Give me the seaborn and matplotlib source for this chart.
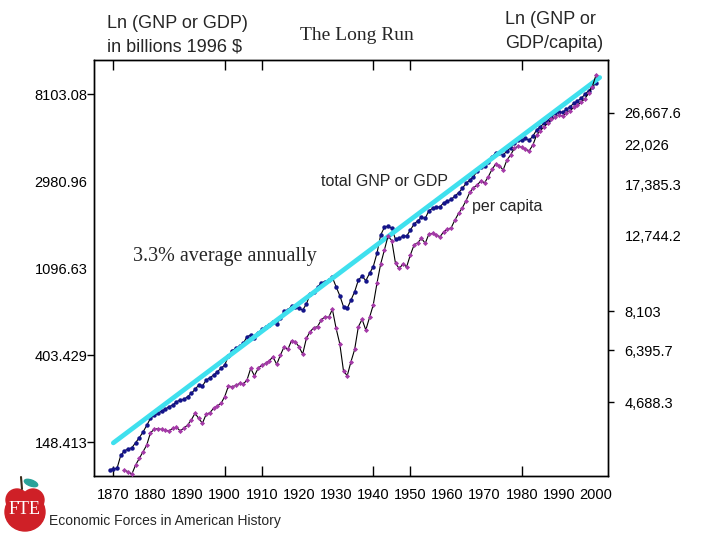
import numpy as np
import matplotlib
matplotlib.use("Agg")
import matplotlib.pyplot as plt
import seaborn as sns
from matplotlib.patches import Ellipse, Circle
from matplotlib.ticker import FixedLocator

# x values
gdp_years = list(range(1869, 2001))
pc_years = list(range(1873, 2001))

# ln of real GNP/GDP, billions of 1996 $ (left scale)
ln_gdp = [
    4.678,
    4.693, 4.697, 4.846, 4.900, 4.919, 4.935, 4.992, 5.050, 5.115, 5.191,
    5.272, 5.306, 5.329, 5.356, 5.379, 5.406, 5.425, 5.463, 5.482, 5.490,
    5.521, 5.559, 5.605, 5.655, 5.643, 5.712, 5.739, 5.770, 5.808, 5.846,
    5.885, 5.988, 6.050, 6.076, 6.103, 6.134, 6.210, 6.230, 6.191, 6.256,
    6.295, 6.318, 6.341, 6.379, 6.356, 6.421, 6.505, 6.517, 6.563, 6.548,
    6.536, 6.517, 6.586, 6.701, 6.728, 6.778, 6.831, 6.843, 6.862, 6.892,
    6.785, 6.682, 6.555, 6.536, 6.632, 6.728, 6.862, 6.908, 6.854, 6.938,
    7.015, 7.168, 7.379, 7.467, 7.482, 7.456, 7.329, 7.341, 7.368, 7.368,
    7.437, 7.505, 7.544, 7.582, 7.571, 7.659, 7.686, 7.697, 7.705, 7.751,
    7.770, 7.789, 7.827, 7.866, 7.915, 7.973, 8.011, 8.050, 8.115, 8.161,
    8.176, 8.222, 8.279, 8.325, 8.318, 8.299, 8.345, 8.383, 8.433, 8.471,
    8.471, 8.490, 8.467, 8.517, 8.586, 8.624, 8.663, 8.693, 8.739, 8.778,
    8.797, 8.789, 8.823, 8.854, 8.892, 8.919, 8.950, 8.996, 9.038, 9.084,
    9.122,
]

# ln of real GNP/GDP per capita, 1996 $ (right scale)
ln_pc = [
    8.044, 8.034, 8.020, 8.074, 8.114, 8.154, 8.194,
    8.268, 8.288, 8.293, 8.288, 8.284, 8.278, 8.295, 8.301, 8.280, 8.295,
    8.315, 8.345, 8.385, 8.355, 8.325, 8.379, 8.389, 8.415, 8.429, 8.445,
    8.485, 8.549, 8.545, 8.553, 8.565, 8.561, 8.585, 8.655, 8.611, 8.655,
    8.675, 8.685, 8.701, 8.725, 8.679, 8.735, 8.785, 8.769, 8.822, 8.816,
    8.785, 8.741, 8.836, 8.876, 8.900, 8.906, 8.946, 8.966, 8.962, 9.010,
    8.896, 8.802, 8.639, 8.611, 8.695, 8.769, 8.906, 8.950, 8.886, 8.962,
    9.036, 9.166, 9.282, 9.367, 9.451, 9.423, 9.286, 9.256, 9.282, 9.266,
    9.337, 9.397, 9.411, 9.437, 9.407, 9.463, 9.467, 9.457, 9.447, 9.477,
    9.491, 9.501, 9.547, 9.587, 9.621, 9.663, 9.713, 9.741, 9.757, 9.783,
    9.771, 9.808, 9.852, 9.884, 9.872, 9.848, 9.908, 9.938, 9.978, 9.992,
    9.984, 9.972, 9.964, 9.998, 10.058, 10.084, 10.108, 10.128, 10.152, 10.168,
    10.178, 10.172, 10.192, 10.204, 10.224, 10.236, 10.256, 10.276, 10.309, 10.349,
    10.419,
]

# trend line, 3.3% a year
trend_years = [1870, 2001]
trend_ln = [4.99, 9.19]

left_ticks = [148.413, 403.429, 1096.63, 2980.96, 8103.08]
left_labels = ["148.413", "403.429", "1096.63", "2980.96", "8103.08"]
left_marked = [148.413, 403.429, 8103.08]

right_ticks = [4688.3, 6395.7, 8103, 12744.2, 17385.3, 22026, 26667.6]
right_labels = ["4,688.3", "6,395.7", "8,103", "12,744.2", "17,385.3", "22,026", "26,667.6"]
right_marked = [4688.3, 6395.7, 8103, 26667.6]

decades = list(range(1870, 2001, 10))
year_marks = [1870, 1900, 1910, 1940, 1950, 1980]

sns.set_theme(style="white")
plt.rcParams["font.family"] = ["Liberation Sans", "DejaVu Sans"]

W, H = 720, 540
fig = plt.figure(figsize=(7.2, 5.4), dpi=100)
fig.patch.set_facecolor("white")

def fx(px):
    return px / W

def fy(py):
    return 1 - py / H

ax = fig.add_axes([fx(94.3), fy(475.7), fx(608 - 94.3), (475.7 - 60) / H])
ax2 = ax.twinx()

sns.lineplot(x=gdp_years, y=ln_gdp, ax=ax, color="black", lw=0.8,
             marker="o", markersize=3.2, markerfacecolor="#14148a",
             markeredgecolor="#14148a", markeredgewidth=0,
             estimator=None, sort=False, zorder=2)
sns.lineplot(x=trend_years, y=trend_ln, ax=ax, color="#3fe0ee", lw=3.4,
             estimator=None, sort=False, zorder=3)
sns.lineplot(x=pc_years, y=ln_pc, ax=ax2, color="black", lw=0.8,
             marker="D", markersize=2.6, markerfacecolor="#a53aa8",
             markeredgecolor="#a53aa8", markeredgewidth=0,
             estimator=None, sort=False, zorder=4)

ax.set_xlim(1864.88, 2003.23)
ax.set_ylim(4.613, 9.391)
ax2.set_ylim(8.010, 10.509)

# left axis
ax.set_yticks(np.log(left_ticks))
ax.set_yticklabels(left_labels)
ax.yaxis.set_minor_locator(FixedLocator(np.log(left_marked)))
ax.yaxis.remove_overlapping_locs = False
ax.tick_params(axis="y", which="major", length=0, pad=5, labelsize=10.5, colors="black")
ax.tick_params(axis="y", which="minor", left=True, length=5, width=1, direction="out", color="black")

# right axis
ax2.set_yticks(np.log(right_ticks))
ax2.set_yticklabels(right_labels)
ax2.yaxis.set_minor_locator(FixedLocator(np.log(right_marked)))
ax2.yaxis.remove_overlapping_locs = False
ax2.tick_params(axis="y", which="major", length=0, pad=12, labelsize=10.5, colors="black")
ax2.tick_params(axis="y", which="minor", right=True, length=4, width=1, direction="out", color="black")

# x axis
ax.set_xticks(decades)
ax.set_xticklabels([str(d) for d in decades])
ax.xaxis.set_minor_locator(FixedLocator(year_marks))
ax.xaxis.remove_overlapping_locs = False
ax.tick_params(axis="x", which="major", length=0, pad=9, labelsize=10.5, colors="black")
ax.tick_params(axis="x", which="minor", bottom=True, top=True, length=7, width=1,
               direction="in", color="black")
ax.set_xlabel("")
ax.set_ylabel("")
ax2.set_ylabel("")

for a in (ax, ax2):
    for s in a.spines.values():
        s.set_color("black")
        s.set_linewidth(1.0)

# titles and notes
sans = ["Liberation Sans", "DejaVu Sans"]
serif = ["Liberation Serif", "DejaVu Serif"]
fig.text(fx(107), fy(23), "Ln (GNP or GDP)", fontsize=13, family=sans, va="center")
fig.text(fx(107), fy(47), "in billions 1996 $", fontsize=13, family=sans, va="center")
fig.text(fx(357), fy(36), "The Long Run", fontsize=14, family=serif, ha="center", va="center")
fig.text(fx(505), fy(20), "Ln (GNP or", fontsize=13, family=sans, va="center")
fig.text(fx(505), fy(44), "GDP/capita)", fontsize=13, family=sans, va="center")
fig.text(fx(133), fy(257), "3.3% average annually", fontsize=14.5, family=serif, va="center")
fig.text(fx(321), fy(181), "total GNP or GDP", fontsize=11.5, family=sans, va="center")
fig.text(fx(472), fy(207), "per capita", fontsize=11.5, family=sans, va="center")
fig.text(fx(49), fy(521), "Economic Forces in American History", fontsize=10, family=sans, va="center")

# FTE apple logo
logo = fig.add_axes([0, 0, fx(60), 70 / H])
logo.set_xlim(0, 60)
logo.set_ylim(540, 470)
logo.axis("off")
red = "#cf2027"
logo.add_patch(Ellipse((25, 512), 40, 38, color=red))
logo.add_patch(Circle((17, 500), 11, color=red))
logo.add_patch(Circle((33, 500), 11, color=red))
logo.add_patch(Ellipse((31, 483), 14, 6, angle=20, color="#2aa39a"))
logo.plot([22, 21], [489, 477], color="#3a2a1a", lw=1.5)
logo.text(25, 509, "FTE", color="white", fontsize=13, family=serif, ha="center", va="center")

fig.savefig("out.png", dpi=100, facecolor="white")
